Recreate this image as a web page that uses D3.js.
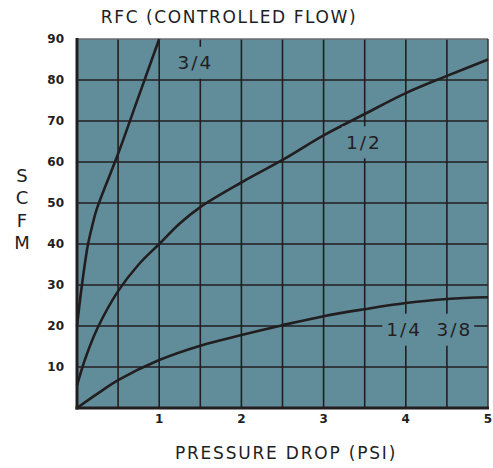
<!DOCTYPE html>
<html><head><meta charset="utf-8">
<script src="https://cdn.jsdelivr.net/npm/d3@7"></script>
<style>body{margin:0;background:#fff}svg{display:block}</style>
</head><body><svg id="c" width="493" height="468"></svg>
<script>
const xTicks = [1, 2, 3, 4, 5];
const yTicks = [10, 20, 30, 40, 50, 60, 70, 80, 90];
const xGrid = [0.5, 1, 1.5, 2, 2.5, 3, 3.5, 4, 4.5];
const yGrid = [10, 20, 30, 40, 50, 60, 70, 80];
const psi34 = [0, 0.06, 0.13, 0.18, 0.24, 0.5, 0.75, 1.0];
const scfm34 = [20, 30, 39.5, 44, 48.5, 62, 76, 90];
const psi12 = [0, 0.1, 0.25, 0.5, 0.75, 1, 1.25, 1.5, 2, 2.5, 3, 3.5, 4, 4.5, 5];
const scfm12 = [5.5, 12, 19.5, 28.5, 35, 40, 45, 49, 55, 60.5, 66.5, 71.7, 76.8, 81, 85];
const psi14 = [0, 0.25, 0.5, 1, 1.5, 2, 2.5, 3, 3.5, 4, 4.5, 5];
const scfm14 = [0, 3.5, 6.8, 11.7, 15.2, 17.8, 20.2, 22.4, 24.1, 25.6, 26.6, 27];
// label groups: each group shares one background box
const labelGroups = [
  [{t: "3/4", x: 1.44, y: 84.2}],
  [{t: "1/2", x: 3.49, y: 64.8}],
  [{t: "1/4", x: 3.98, y: 19.1}, {t: "3/8", x: 4.59, y: 19.1}]
];

const svg = d3.select("#c");
const x = d3.scaleLinear().domain([0, 5]).range([77, 488]);
const y = d3.scaleLinear().domain([0, 90]).range([408, 39]);
const ink = "#221e1f";
const fill = "#618d9b";

svg.append("rect").attr("x", x(0)).attr("y", y(90)).attr("width", x(5) - x(0)).attr("height", y(0) - y(90))
  .attr("fill", fill);

const g = svg.append("g");
g.selectAll(".vg").data(xGrid).join("line")
  .attr("x1", d => x(d)).attr("x2", d => x(d)).attr("y1", y(0)).attr("y2", y(90))
  .attr("stroke", ink).attr("stroke-width", 1.6);
g.selectAll(".hg").data(yGrid).join("line")
  .attr("y1", d => y(d)).attr("y2", d => y(d)).attr("x1", x(0)).attr("x2", x(5))
  .attr("stroke", ink).attr("stroke-width", 1.6);

// frame
svg.append("line").attr("x1", x(0)).attr("x2", x(5)).attr("y1", y(90)).attr("y2", y(90)).attr("stroke", "#6d6a6a").attr("stroke-width", 1.5);
svg.append("line").attr("x1", x(5)).attr("x2", x(5)).attr("y1", y(90)).attr("y2", y(0)).attr("stroke", "#333").attr("stroke-width", 1.5);

const line = d3.line().x(d => x(d[0])).y(d => y(d[1])).curve(d3.curveCatmullRom.alpha(0.5));
const series = [d3.zip(psi34, scfm34), d3.zip(psi12, scfm12), d3.zip(psi14, scfm14)];
svg.append("g").selectAll("path").data(series).join("path")
  .attr("d", line).attr("fill", "none").attr("stroke", ink).attr("stroke-width", 2.6);

// curve labels with background
labelGroups.forEach(grp => {
  const lg = svg.append("g");
  const rect = lg.append("rect").attr("fill", fill);
  let x0 = Infinity, x1 = -Infinity, cy = 0;
  grp.forEach(l => {
    const t = lg.append("text").attr("x", x(l.x)).attr("y", y(l.y)).attr("text-anchor", "middle")
      .attr("dominant-baseline", "central")
      .attr("font-family", "DejaVu Sans").attr("font-size", 18.5).attr("letter-spacing", 2).attr("fill", ink).text(l.t);
    const b = t.node().getBBox();
    x0 = Math.min(x0, b.x); x1 = Math.max(x1, b.x + b.width); cy = y(l.y);
  });
  rect.attr("x", x0 - 4).attr("y", cy - 16).attr("width", x1 - x0 + 6).attr("height", 32);
});

// axes lines
svg.append("line").attr("x1", x(0)).attr("x2", x(0)).attr("y1", y(90) - 1).attr("y2", y(0) + 1.5).attr("stroke", ink).attr("stroke-width", 3);
svg.append("line").attr("x1", x(0) - 1.5).attr("x2", x(5) + 1).attr("y1", y(0)).attr("y2", y(0)).attr("stroke", ink).attr("stroke-width", 3);

// tick labels
svg.append("g").selectAll("text").data(yTicks).join("text")
  .attr("x", 64).attr("y", d => y(d)).attr("text-anchor", "end").attr("dominant-baseline", "central")
  .attr("font-family", "DejaVu Sans").attr("font-weight", "bold").attr("font-size", 12).attr("fill", ink)
  .text(d => d);
svg.append("g").selectAll("text").data(xTicks).join("text")
  .attr("x", d => x(d)).attr("y", 423).attr("text-anchor", "middle")
  .attr("font-family", "DejaVu Sans").attr("font-weight", "bold").attr("font-size", 12).attr("fill", ink)
  .text(d => d);

// titles
svg.append("text").attr("x", 229).attr("y", 23).attr("text-anchor", "middle")
  .attr("font-family", "DejaVu Sans").attr("font-size", 17).attr("letter-spacing", 1.6).attr("fill", ink)
  .text("RFC (CONTROLLED FLOW)");
svg.append("text").attr("x", 286).attr("y", 459).attr("text-anchor", "middle")
  .attr("font-family", "DejaVu Sans").attr("font-size", 17).attr("letter-spacing", 1.8).attr("fill", ink)
  .text("PRESSURE DROP (PSI)");
const ylab = svg.append("text").attr("font-family", "DejaVu Sans").attr("font-size", 18).attr("fill", ink)
  .attr("text-anchor", "middle");
["S", "C", "F", "M"].forEach((c, i) => {
  ylab.append("tspan").attr("x", 22).attr("y", 182 + i * 22.3).text(c);
});
</script></body></html>
